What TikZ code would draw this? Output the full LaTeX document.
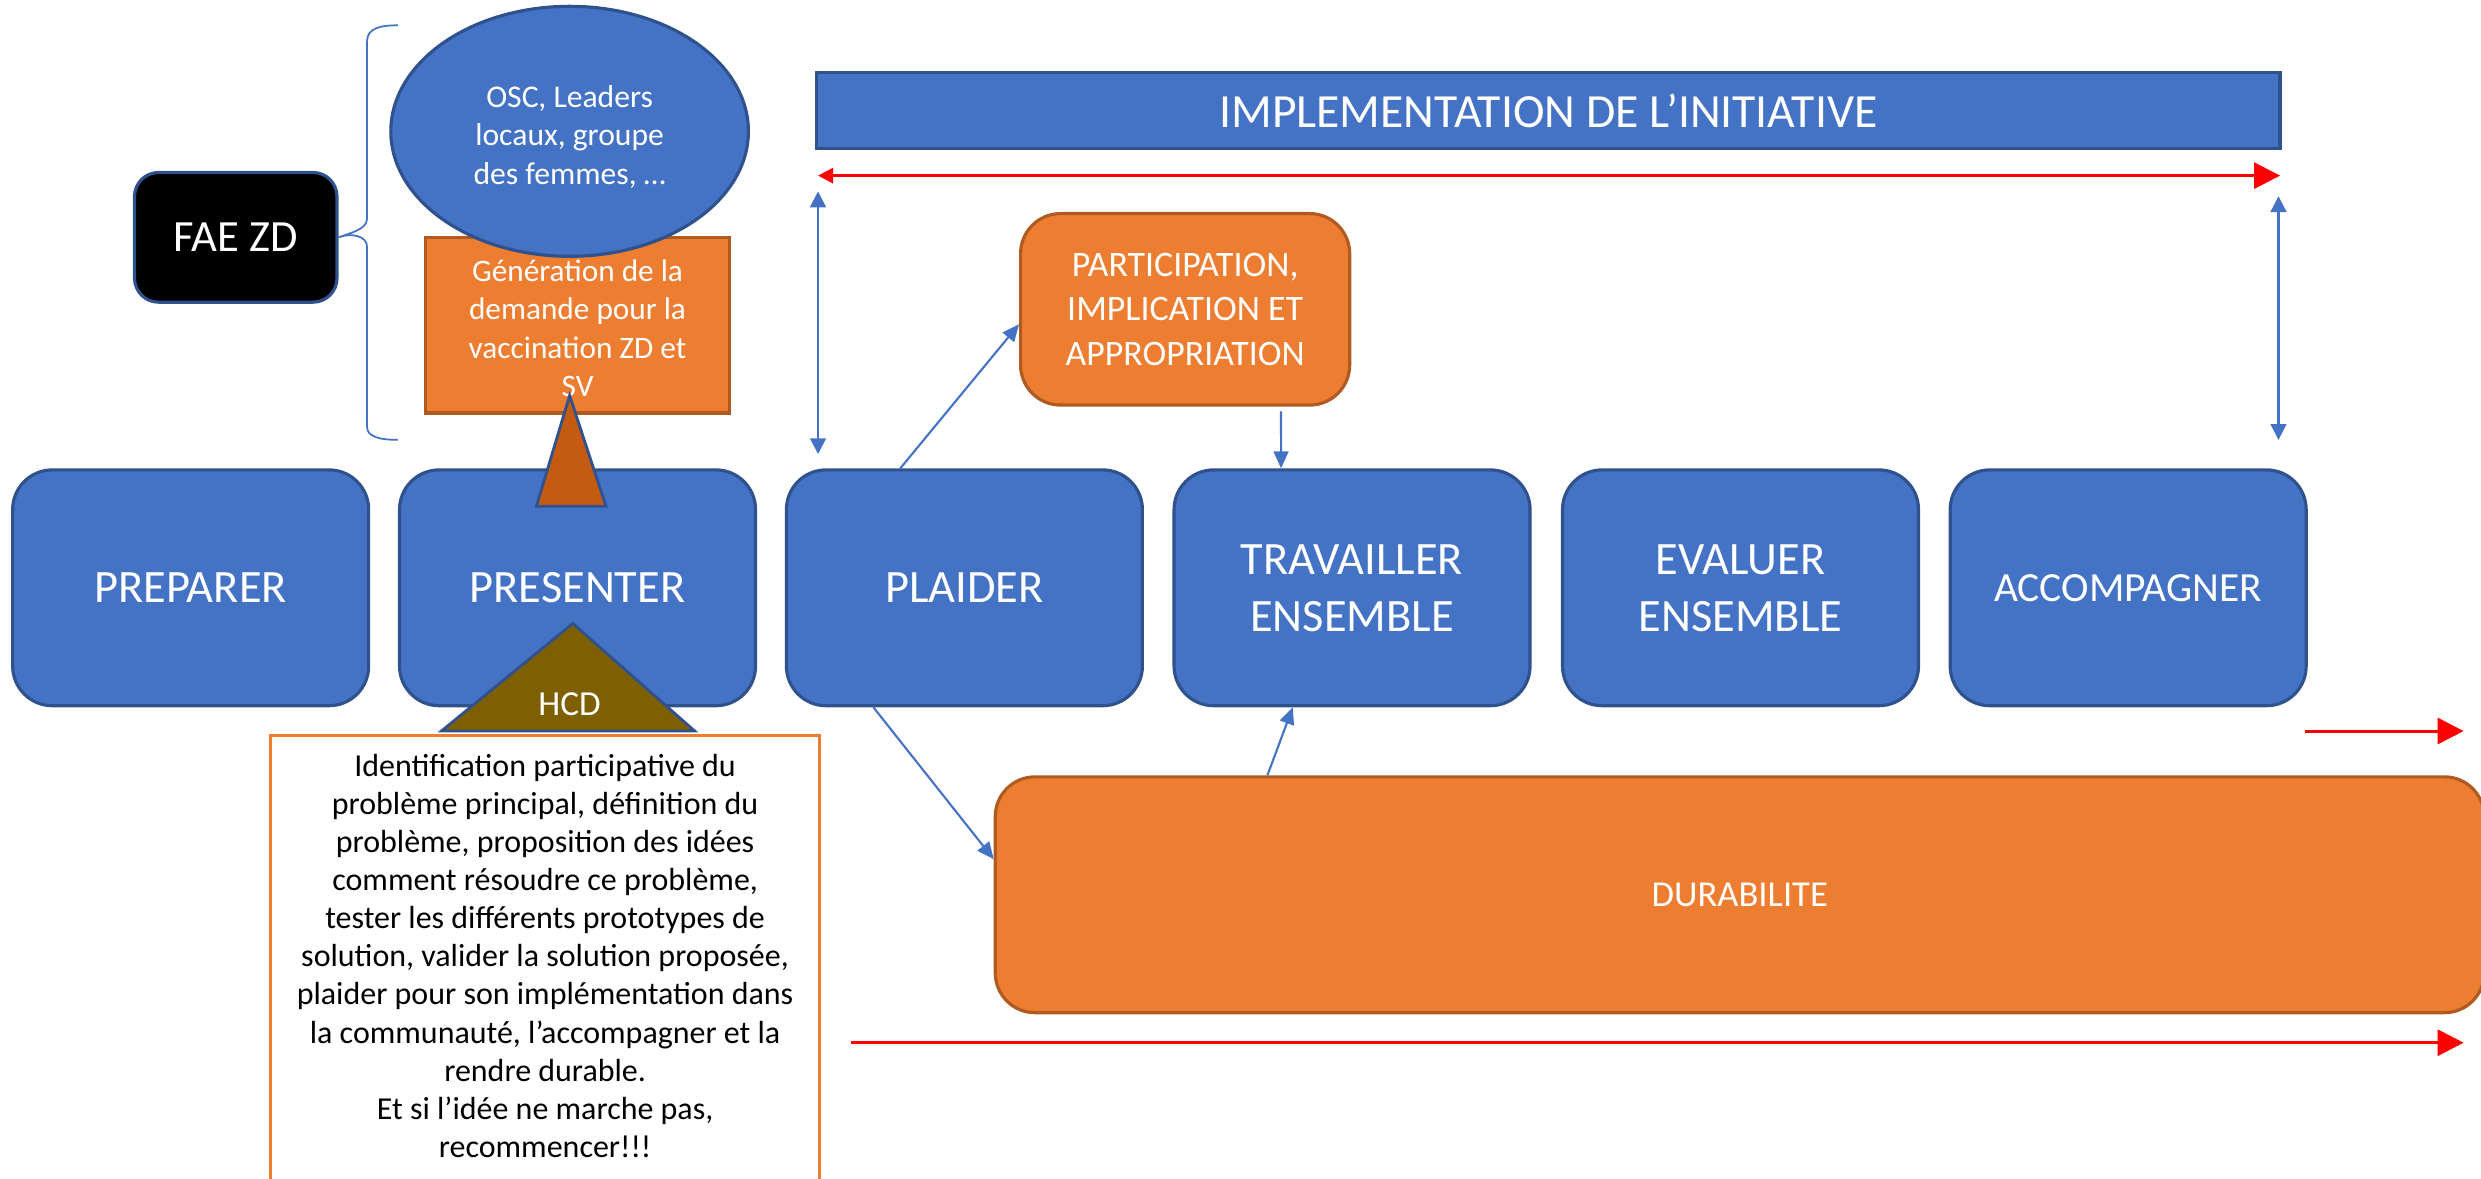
\documentclass[tikz,border=0pt]{standalone}
\usepackage{fontspec}
\newfontfamily\calfont{Carlito}
\usetikzlibrary{arrows.meta,shapes.geometric}
\definecolor{cblue}{HTML}{4472C4}
\definecolor{cblueb}{HTML}{2F528F}
\definecolor{corange}{HTML}{ED7D31}
\definecolor{coranb}{HTML}{AE5A21}
\definecolor{cdark}{HTML}{C55A11}
\definecolor{colive}{HTML}{7F6000}
\definecolor{cred}{HTML}{FF0000}
\begin{document}
\begin{tikzpicture}[x=0.015823cm,y=-0.015823cm,
  stepbox/.style={draw=cblueb, line width=0.9pt, fill=cblue, rounded corners=0.396cm,
    minimum width=3.560cm, minimum height=2.358cm, inner sep=0pt, align=center,
    text=white, font=\calfont\fontsize{13.2}{16.2}\selectfont},
  orbox/.style={draw=coranb, line width=0.9pt, fill=corange, inner sep=0pt,
    align=center, text=white},
  conn/.style={draw=cblue, line width=0.6pt, -{Triangle[length=4.8pt,width=4.2pt]}},
  vconn/.style={draw=cblue, line width=0.6pt,
    {Triangle[length=4.5pt,width=4.5pt]}-{Triangle[length=4.5pt,width=4.5pt]}},
  redline/.style={draw=cred, line width=0.85pt}]
\useasboundingbox (0,0) rectangle (1568,745);

% step boxes
\node[stepbox] (preparer) at (120.5,371.5) {PREPARER};
\node[stepbox] (presenter) at (365,371.5) {PRESENTER};
\node[stepbox] (plaider) at (609.5,371.5) {PLAIDER};
\node[stepbox] (trav) at (854.5,371.5) {TRAVAILLER\\ENSEMBLE};
\node[stepbox] (eval) at (1100,371.5) {EVALUER\\ENSEMBLE};
\node[stepbox, font=\calfont\fontsize{11.8}{14}\selectfont] (accomp) at (1345,371.5) {ACCOMPAGNER};

% FAE ZD
\node[draw=cblueb, line width=0.9pt, fill=black, rounded corners=0.24cm,
  minimum width=2.025cm, minimum height=1.297cm, inner sep=0pt, text=white,
  font=\calfont\fontsize{12.7}{15}\selectfont] (fae) at (149,150) {FAE ZD};

% brace
\draw[cblue, line width=0.5pt] (251.5,16) .. controls (240,16) and (232,18) .. (232,26)
  -- (232,138) .. controls (232,145) and (222,147) .. (fae.east)
  .. controls (222,147) and (232,149) .. (232,156)
  -- (232,270) .. controls (232,276) and (240,278) .. (251.5,278);

% generation rect and ellipse
\node[orbox, minimum width=3.038cm, minimum height=1.756cm] (gen) at (365,205.5) {};
\node[inner sep=0pt, align=center, text=white,
  font=\calfont\fontsize{8.9}{10.9}\selectfont] (gentext) at (365,207.5)
  {Génération de la\\demande pour la\\vaccination ZD et\\SV};
\node[ellipse, draw=cblueb, fill=cblue, line width=0.9pt, minimum width=3.576cm,
  minimum height=2.5cm, inner sep=0pt] (osc) at (360,83) {};
\node[inner sep=0pt, align=center, text=white,
  font=\calfont\fontsize{9}{10.9}\selectfont] (osctext) at (360,86.5)
  {OSC, Leaders\\locaux, groupe\\des femmes, …};

% small orange triangle
\draw[fill=cdark, draw=cblueb, line width=0.8pt] (360,250) -- (383,320) -- (339,320) -- cycle;

% HCD text box
\node[draw=corange, line width=0.8pt, fill=white, minimum width=5.491cm,
  minimum height=4.668cm, inner sep=0pt] (hcdbox) at (344.5,612.5) {};
\node[anchor=north, inner sep=0pt, align=center,
  font=\calfont\fontsize{9.1}{10.85}\selectfont] (hcdtext) at (344.5,476)
  {Identification participative du\\
   problème principal, définition du\\
   problème, proposition des idées\\
   comment résoudre ce problème,\\
   tester les différents prototypes de\\
   solution, valider la solution proposée,\\
   plaider pour son implémentation dans\\
   la communauté, l’accompagner et la\\
   rendre durable.\\
   Et si l’idée ne marche pas,\\
   recommencer!!!};

% HCD triangle
\draw[fill=colive, draw=cblueb, line width=0.8pt] (362,394) -- (439,462) -- (279,462) -- cycle;
\node[text=white, inner sep=0pt, font=\calfont\fontsize{10}{12}\selectfont] (hcd) at (360,445) {HCD};

% implementation bar
\node[draw=cblueb, fill=cblue, line width=0.9pt, minimum width=14.636cm,
  minimum height=0.76cm, inner sep=0pt, text=white,
  font=\calfont\fontsize{13.55}{15}\selectfont] (impl) at (978.5,70)
  {IMPLEMENTATION DE L’INITIATIVE};

% participation
\node[orbox, rounded corners=0.4cm, minimum width=3.291cm, minimum height=1.915cm,
  font=\calfont\fontsize{10.2}{12.6}\selectfont] (particip) at (749,195.5)
  {PARTICIPATION,\\IMPLICATION ET\\APPROPRIATION};

% durabilite
\node[orbox, rounded corners=0.396cm, minimum width=14.889cm, minimum height=2.358cm,
  font=\calfont\fontsize{10.4}{12}\selectfont] (durab) at (1099.5,565.5) {DURABILITE};

% red arrows
\coordinate (rL) at (517,111);
\coordinate (rR) at (1441,111);
\coordinate (r2a) at (1457,462);
\coordinate (r2b) at (1557,462);
\coordinate (r3a) at (538,659);
\coordinate (r3b) at (1557,659);
\draw[redline, {Triangle[length=4.3pt,width=4.3pt]}-{Triangle[length=7.4pt,width=7.4pt]}] (rL) -- (rR);
\draw[redline, -{Triangle[length=7.4pt,width=7.4pt]}] (r2a) -- (r2b);
\draw[redline, -{Triangle[length=7.4pt,width=7.4pt]}] (r3a) -- (r3b);

% blue vertical double arrows
\coordinate (v1a) at (517,121);
\coordinate (v1b) at (517,287);
\coordinate (v2a) at (1440,124);
\coordinate (v2b) at (1440,278);
\draw[vconn] (v1a) -- (v1b);
\draw[vconn] (v2a) -- (v2b);

% connectors
\draw[conn] ([xshift=-0.641cm]plaider.north) -- ([yshift=-0.150cm]particip.west);
\draw[conn] ([xshift=0.959cm,yshift=-0.047cm]particip.south) -- ([xshift=-0.710cm]trav.north);
\draw[conn] ([xshift=-0.910cm]plaider.south) -- ([yshift=0.356cm]durab.west);
\draw[conn] ([xshift=-4.723cm]durab.north) -- ([xshift=-0.593cm]trav.south);
\end{tikzpicture}
\end{document}
